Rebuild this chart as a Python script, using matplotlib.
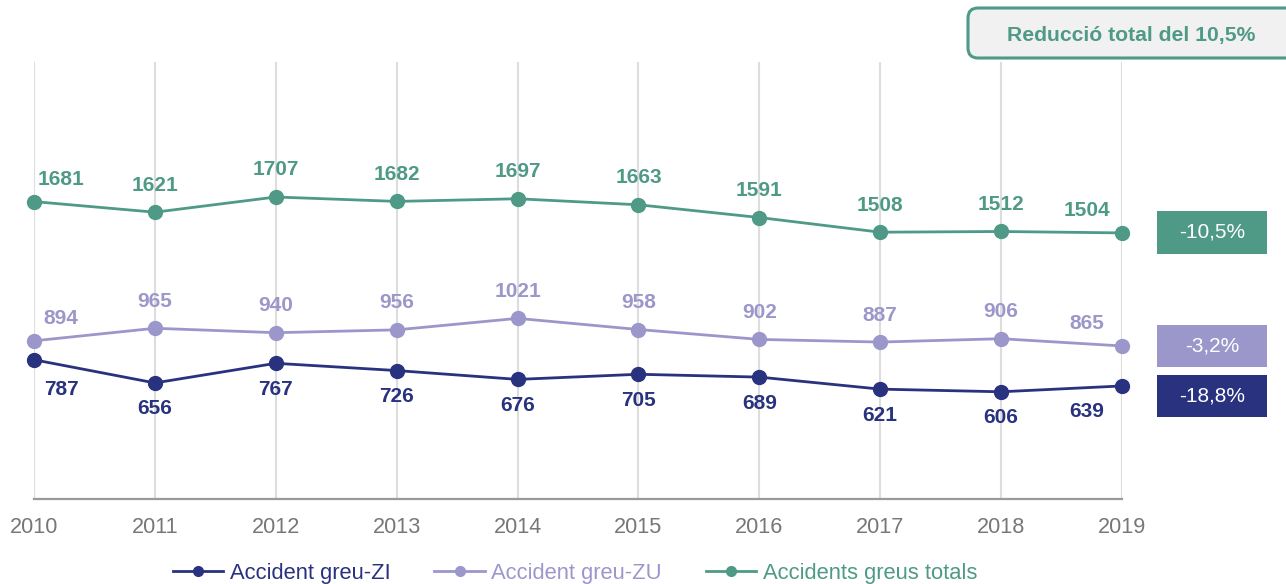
import matplotlib
matplotlib.use("Agg")
import matplotlib.pyplot as plt
from matplotlib.patches import FancyBboxPatch, Rectangle
from matplotlib.transforms import IdentityTransform
from matplotlib.lines import Line2D

plt.rcParams['font.family'] = ['Liberation Sans', 'DejaVu Sans']

years = [2010, 2011, 2012, 2013, 2014, 2015, 2016, 2017, 2018, 2019]
greu_zi = [787, 656, 767, 726, 676, 705, 689, 621, 606, 639]
greu_zu = [894, 965, 940, 956, 1021, 958, 902, 887, 906, 865]
totals = [1681, 1621, 1707, 1682, 1697, 1663, 1591, 1508, 1512, 1504]

series_names = ["Accident greu-ZI", "Accident greu-ZU", "Accidents greus totals"]
change_labels = ["-18,8%", "-3,2%", "-10,5%"]
headline = "Reducció total del 10,5%"

C_NAVY = "#29327f"
C_LILAC = "#9c97cb"
C_GREEN = "#4e9a86"

W, H = 1286, 584
fig = plt.figure(figsize=(W / 100, H / 100), dpi=100)
ax = fig.add_axes([34 / W, 1 - 499 / H, (1122 - 34) / W, (499 - 62) / H])

ax.set_xlim(years[0], years[-1])
ax.set_ylim(0, 2470)
ax.set_xticks(years)
ax.set_xticklabels([str(y) for y in years], fontsize=15.6, color="#777777")
ax.set_yticks([])
ax.tick_params(axis="x", length=0, pad=13)
for side in ("top", "left", "right"):
    ax.spines[side].set_visible(False)
ax.spines["bottom"].set_color("#9a9a9a")
ax.spines["bottom"].set_linewidth(1.6)
ax.grid(axis="x", color="#dddddd", linewidth=1.5)
ax.set_axisbelow(True)

series = [(greu_zi, C_NAVY), (greu_zu, C_LILAC), (totals, C_GREEN)]
for vals, col in series:
    ax.plot(years, vals, color=col, linewidth=2.0, marker="o", markersize=10,
            clip_on=False, zorder=3)


def label_offsets(i, n, above):
    dx = 0
    if i == 0:
        dx = 27
    elif i == n - 1:
        dx = -35
    if above:
        dy = 22 if i in (0, n - 1) else 27
    else:
        dy = -30 if i == 0 else -26
    return dx, dy


n = len(years)
for vals, col, above in [(totals, C_GREEN, True), (greu_zu, C_LILAC, True), (greu_zi, C_NAVY, False)]:
    for i, (x, v) in enumerate(zip(years, vals)):
        dx, dy = label_offsets(i, n, above)
        ax.annotate(str(v), (x, v), xytext=(dx, dy), textcoords="offset pixels",
                    ha="center", va="center", fontsize=15, fontweight="bold",
                    color=col, annotation_clip=False)

# percentage change boxes on the right
pix = IdentityTransform()
boxes = [(167, 209, C_NAVY, change_labels[0]),
         (217, 259, C_LILAC, change_labels[1]),
         (330, 373, C_GREEN, change_labels[2])]
for y0, y1, col, txt in boxes:
    fig.patches.append(Rectangle((1157, y0), 110, y1 - y0, transform=pix,
                                 facecolor=col, edgecolor="none"))
    fig.text(1212 / W, ((y0 + y1) / 2) / H, txt, ha="center", va="center",
             color="white", fontsize=15)

# headline box
fig.patches.append(FancyBboxPatch((968, H - 58), 340, 50, transform=pix,
                                  boxstyle="round,pad=0,rounding_size=10",
                                  facecolor="#f1f1f1", edgecolor=C_GREEN,
                                  linewidth=2.2))
fig.text(1131 / W, 1 - 35 / H, headline, ha="center", va="center",
         color=C_GREEN, fontsize=15.2, fontweight="bold")

handles = [Line2D([], [], color=c, linewidth=2.0, marker="o", markersize=7)
           for _, c in series]
fig.legend(handles, series_names, loc="center", bbox_to_anchor=(575 / W, 1 - 573 / H),
           ncol=3, frameon=False, fontsize=15.8, labelcolor=[c for _, c in series],
           handlelength=2.3, handletextpad=0.3, columnspacing=2.0,
           borderpad=0, borderaxespad=0)

fig.savefig("out.png", dpi=100)
